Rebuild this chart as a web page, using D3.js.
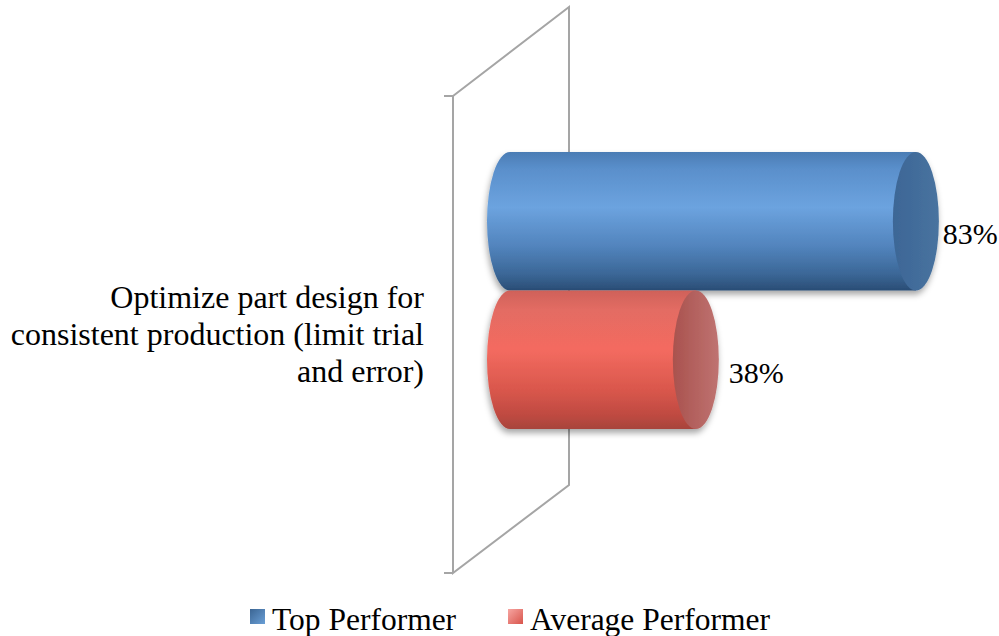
<!DOCTYPE html>
<html>
<head>
<meta charset="utf-8">
<script src="https://cdn.jsdelivr.net/npm/d3@7"></script>
<style>
  html, body { margin: 0; padding: 0; background: #fff; }
  svg { display: block; }
</style>
</head>
<body>
<svg id="chart" width="999" height="636"></svg>
<script>
// Chart data
const categories = ["Optimize part design for consistent production (limit trial and error)"];
const categoryLines = [["Optimize part design for", "consistent production (limit trial", "and error)"]];
const seriesNames = ["Top Performer", "Average Performer"];
const topPerformer = [0.83];
const averagePerformer = [0.38];
const seriesValues = [topPerformer, averagePerformer];

const FONT = "Liberation Serif";
const svg = d3.select("#chart");
const defs = svg.append("defs");

// Cylinder shading per series: body gradient (vertical), cap colours
const palette = [
  { body: [["0%", "#4a7cb4"], ["12%", "#5a8fcb"], ["40%", "#6ca3df"], ["68%", "#5284bd"], ["88%", "#3b6797"], ["100%", "#2a4d75"]],
    capA: "#3d6696", capB: "#48739f", legA: "#3b6593", legB: "#6a9fd6" },
  { body: [["0%", "#cf6159"], ["14%", "#e36c63"], ["42%", "#f46b60"], ["72%", "#d9574c"], ["90%", "#bf4a41"], ["100%", "#a7443c"]],
    capA: "#a9524e", capB: "#bf7371", legA: "#f7a6a2", legB: "#d8544b" }
];

palette.forEach((p, i) => {
  const g = defs.append("linearGradient").attr("id", "body" + i)
    .attr("x1", 0).attr("y1", 0).attr("x2", 0).attr("y2", 1);
  p.body.forEach(([o, c]) => g.append("stop").attr("offset", o).attr("stop-color", c));
  const c = defs.append("linearGradient").attr("id", "cap" + i)
    .attr("x1", 0).attr("y1", 0).attr("x2", 1).attr("y2", 0);
  c.append("stop").attr("offset", "0%").attr("stop-color", p.capA);
  c.append("stop").attr("offset", "100%").attr("stop-color", p.capB);
  const l = defs.append("linearGradient").attr("id", "leg" + i)
    .attr("x1", 0).attr("y1", 0).attr("x2", 1).attr("y2", 1);
  l.append("stop").attr("offset", "0%").attr("stop-color", p.legA);
  l.append("stop").attr("offset", "100%").attr("stop-color", p.legB);
});

const shadow = defs.append("filter").attr("id", "shadow")
  .attr("x", "-10%").attr("y", "-10%").attr("width", "130%").attr("height", "130%");
shadow.append("feDropShadow").attr("dx", -1).attr("dy", 4).attr("stdDeviation", 3)
  .attr("flood-color", "#000").attr("flood-opacity", 0.35);

// Scales
const x = d3.scaleLinear().domain([0, 1]).range([510, 999]);
const yCat = d3.scaleBand().domain(categories).range([152, 429]).padding(0);
const ySer = d3.scaleBand().domain(seriesNames).range([0, yCat.bandwidth()]).padding(0);

// Back wall in perspective
const wall = svg.append("g").attr("fill", "none").attr("stroke", "#a5a5a5").attr("stroke-width", 2);
const wallPts = [[453, 96], [569, 7], [569, 485], [453, 573], [453, 96]];
wall.append("path").attr("d", d3.line()(wallPts));
wall.append("path").attr("d", d3.line()([[444, 96], [453, 96]]));
wall.append("path").attr("d", d3.line()([[444, 573], [453, 573]]));

// Cylinders
const rx = 23;
const bars = svg.append("g");
const labels = svg.append("g");
categories.forEach((cat, ci) => {
  seriesNames.forEach((s, si) => {
    const v = seriesValues[si][ci];
    const top = yCat(cat) + ySer(s);
    const h = ySer.bandwidth();
    const bot = top + h;
    const ry = h / 2;
    const cy = top + ry;
    const x0 = x(0), x1 = x(v);
    const g = bars.append("g").attr("filter", "url(#shadow)");
    g.append("path")
      .attr("d", `M${x0},${top} L${x1},${top} L${x1},${bot} L${x0},${bot} A${rx},${ry} 0 0 1 ${x0},${top} Z`)
      .attr("fill", `url(#body${si})`);
    g.append("ellipse").attr("cx", x1).attr("cy", cy).attr("rx", rx).attr("ry", ry)
      .attr("fill", `url(#cap${si})`);
    labels.append("text")
      .attr("x", x1 + rx + 4 + si * 6).attr("y", cy + 23)
      .style("font-family", FONT).style("font-size", "30px").attr("fill", "#000")
      .text(d3.format(".0%")(v));
  });
});

// Category label
categories.forEach((cat, ci) => {
  const t = svg.append("text").attr("text-anchor", "end")
    .style("font-family", FONT).style("font-size", "32px").attr("fill", "#000");
  categoryLines[ci].forEach((line, li) => {
    t.append("tspan").attr("x", 424).attr("y", 308 + li * 37).text(line);
  });
});

// Legend
const legendX = [250, 508];
seriesNames.forEach((s, si) => {
  svg.append("rect").attr("x", legendX[si]).attr("y", 609).attr("width", 15).attr("height", 15)
    .attr("fill", `url(#leg${si})`);
  svg.append("text").attr("x", legendX[si] + 22).attr("y", 630)
    .style("font-family", FONT).style("font-size", "31.5px").attr("fill", "#000").text(s);
});
</script>
</body>
</html>
